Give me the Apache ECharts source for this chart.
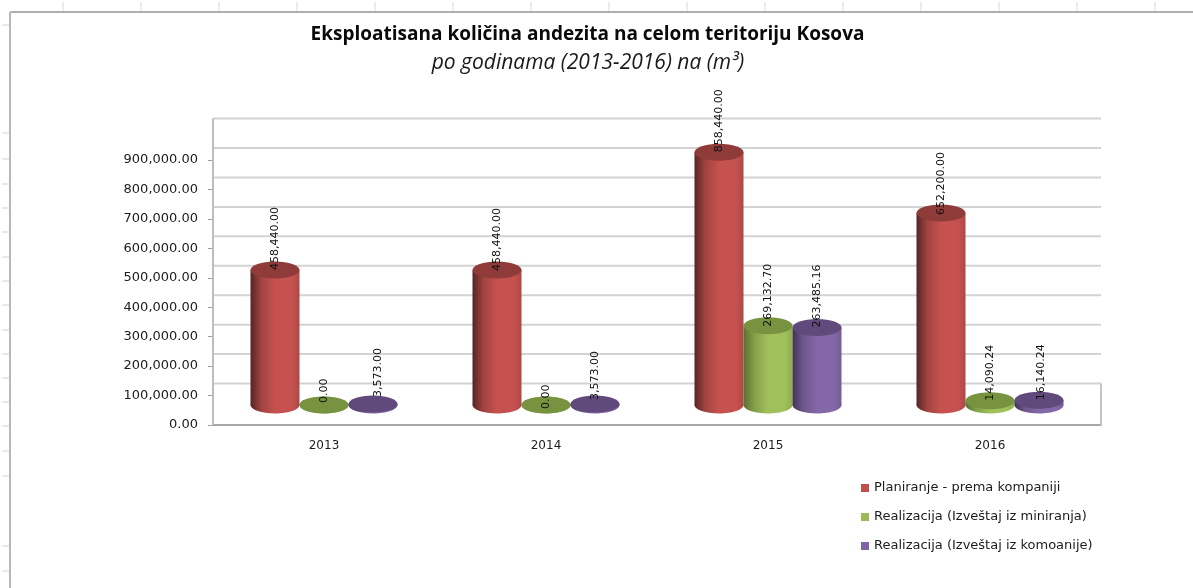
<!DOCTYPE html>
<html>
<head>
<meta charset="utf-8">
<title>Eksploatisana količina andezita</title>
<style>html,body{margin:0;padding:0;background:#fff}#c{width:1193px;height:588px}</style>
<script src="https://cdn.jsdelivr.net/npm/echarts@6/dist/echarts.min.js"></script>
</head>
<body>
<div id="c"></div>
<script>
const categories = ['2013', '2014', '2015', '2016'];
const planiranje = [458440.00, 458440.00, 858440.00, 652200.00];
const miniranje = [0.00, 0.00, 269132.70, 14090.24];
const komoanije = [3573.00, 3573.00, 263485.16, 16140.24];
const seriesNames = ['Planiranje - prema kompaniji', 'Realizacija (Izveštaj iz miniranja)', 'Realizacija (Izveštaj iz komoanije)'];
const wallLevels = [100000, 200000, 300000, 400000, 500000, 600000, 700000, 800000, 900000, 1000000];
const topStubs = [63, 141, 219, 297, 375, 453, 531, 609, 687, 765, 843, 921, 999, 1077, 1155];
const leftStubs = [25, 133, 159, 184, 208, 232, 257, 281, 305, 330, 354, 378, 402, 426, 451, 476, 546, 571];

// Placement of the 3D look and of the hand-moved labels (pixels)
const wallLift = 12, baseLift = 20, rx = 24.5, ry = 8.5, barStep = 49;
const labelShift = [
  [[0, 0], [0, 1], [0, 0], [0, 2]],
  [[0, -2], [0, 4], [0, 1], [0, 0]],
  [[5, -7], [0, -4], [0, 0], [2, 0]]
];
const looks = [
  { main: '#c0504d', top: '#8f3b39', stops: ['#552524', '#a04341', '#c6524f', '#c6524f', '#ae4845'] },
  { main: '#9bbb59', top: '#779340', stops: ['#5b6f32', '#849f49', '#a0c05b', '#a0c05b', '#8fab50'] },
  { main: '#8064a2', top: '#5f4a7b', stops: ['#423354', '#6e578c', '#8467a6', '#8467a6', '#755d95'] }
];

const fmt = v => v.toLocaleString('en-US', { minimumFractionDigits: 2, maximumFractionDigits: 2 });

function cylinder(si) {
  return function (params, api) {
    const cat = api.value(0), val = api.value(1);
    const x = api.coord([cat, val])[0] + (si - 1) * barStep;
    const topY = api.coord([cat, val])[1] - baseLift;
    const baseY = api.coord([cat, 0])[1] - baseLift;
    const l = looks[si], s = labelShift[si][cat];
    const grad = {
      type: 'linear', x: 0, y: 0, x2: 1, y2: 0,
      colorStops: [
        { offset: 0, color: l.stops[0] }, { offset: 0.22, color: l.stops[1] },
        { offset: 0.5, color: l.stops[2] }, { offset: 0.85, color: l.stops[3] },
        { offset: 1, color: l.stops[4] }
      ]
    };
    return {
      type: 'group',
      children: [
        { type: 'ellipse', shape: { cx: x, cy: baseY, rx: rx, ry: ry }, style: { fill: grad } },
        { type: 'rect', shape: { x: x - rx, y: topY, width: rx * 2, height: baseY - topY }, style: { fill: grad } },
        { type: 'ellipse', shape: { cx: x, cy: topY, rx: rx, ry: ry }, style: { fill: l.top } },
        {
          type: 'text', x: x + s[0], y: topY + s[1], rotation: Math.PI / 2,
          style: {
            text: fmt(val), fill: '#111111', font: '11px "DejaVu Sans"',
            textAlign: 'left', textVerticalAlign: 'middle'
          }
        }
      ]
    };
  };
}

function wall(params, api) {
  const cs = params.coordSys;
  const v = api.value(1);
  const y = api.coord([0, v])[1] - wallLift;
  const line = { stroke: '#d3d3d3', lineWidth: 2 };
  const children = [{ type: 'line', shape: { x1: cs.x, y1: y, x2: cs.x + cs.width, y2: y }, style: line }];
  if (params.dataIndex === 0) {
    children.push({
      type: 'line',
      shape: { x1: cs.x + cs.width, y1: y, x2: cs.x + cs.width, y2: cs.y + cs.height },
      style: { stroke: '#c4c4c4', lineWidth: 2 }
    });
  }
  if (params.dataIndex === wallLevels.length - 1) {
    children.push({
      type: 'line',
      shape: { x1: cs.x, y1: y, x2: cs.x, y2: cs.y + cs.height },
      style: { stroke: '#bdbdbd', lineWidth: 2 }
    });
  }
  return { type: 'group', children: children };
}

const frameLines = [
  { type: 'line', silent: true, z: 0, shape: { x1: 10, y1: 12, x2: 1193, y2: 12 }, style: { stroke: '#aeaeae', lineWidth: 2 } },
  { type: 'line', silent: true, z: 0, shape: { x1: 10, y1: 12, x2: 10, y2: 588 }, style: { stroke: '#b8b8b8', lineWidth: 2 } }
];
topStubs.forEach(x => frameLines.push({ type: 'line', silent: true, z: 0, shape: { x1: x, y1: 2, x2: x, y2: 11 }, style: { stroke: '#e6e6e6', lineWidth: 1.5 } }));
leftStubs.forEach(y => frameLines.push({ type: 'line', silent: true, z: 0, shape: { x1: 2, y1: y, x2: 9, y2: y }, style: { stroke: '#e2e2e2', lineWidth: 1.5 } }));

const chart = echarts.init(document.getElementById('c'), null, { renderer: 'canvas' });
const allValues = [planiranje, miniranje, komoanije];
chart.setOption({
  animation: false,
  backgroundColor: '#ffffff',
  graphic: frameLines,
  title: [
    {
      text: 'Eksploatisana količina andezita na celom teritoriju Kosova',
      left: 582.5, top: 20, textAlign: 'center',
      textStyle: { fontFamily: 'Open Sans', fontWeight: 'bold', fontSize: 19, color: '#0a0a0a' }
    },
    {
      text: 'po godinama (2013-2016) na (m³)',
      left: 583, top: 48, textAlign: 'center',
      textStyle: { fontFamily: 'Open Sans', fontStyle: 'italic', fontWeight: 'normal', fontSize: 21, color: '#1a1a1a' }
    }
  ],
  legend: {
    orient: 'vertical', left: 856, top: 476,
    icon: 'rect', itemWidth: 8, itemHeight: 8, itemGap: 15, selectedMode: false,
    data: seriesNames,
    textStyle: { fontFamily: 'DejaVu Sans', fontSize: 13, color: '#1c1c1c', height: 14, lineHeight: 14 }
  },
  grid: { left: 213, top: 160, width: 888, height: 265 },
  xAxis: {
    type: 'category', data: categories,
    axisLine: { lineStyle: { color: '#a8a8a8', width: 2 } },
    axisTick: { alignWithLabel: false, length: 5, lineStyle: { color: '#a0a0a0' } },
    axisLabel: { color: '#1c1c1c', fontFamily: 'DejaVu Sans', fontSize: 12, margin: 15 }
  },
  yAxis: {
    type: 'value', min: 0, max: 900000, interval: 100000,
    axisLine: { show: false },
    axisTick: { show: true, length: 5, lineStyle: { color: '#a0a0a0' } },
    splitLine: { show: false },
    axisLabel: {
      color: '#1c1c1c', fontFamily: 'DejaVu Sans', fontSize: 13, margin: 15,
      formatter: v => fmt(v)
    }
  },
  series: [
    {
      type: 'custom', name: 'wall', z: 1, silent: true, renderItem: wall,
      encode: { x: 0, y: 1 }, data: wallLevels.map(v => [0, v])
    }
  ].concat(allValues.map((vals, si) => ({
    type: 'custom', name: seriesNames[si], z: 3, renderItem: cylinder(si),
    itemStyle: { color: looks[si].main },
    encode: { x: 0, y: 1 },
    data: vals.map((v, i) => [i, v])
  })))
});
</script>
</body>
</html>
